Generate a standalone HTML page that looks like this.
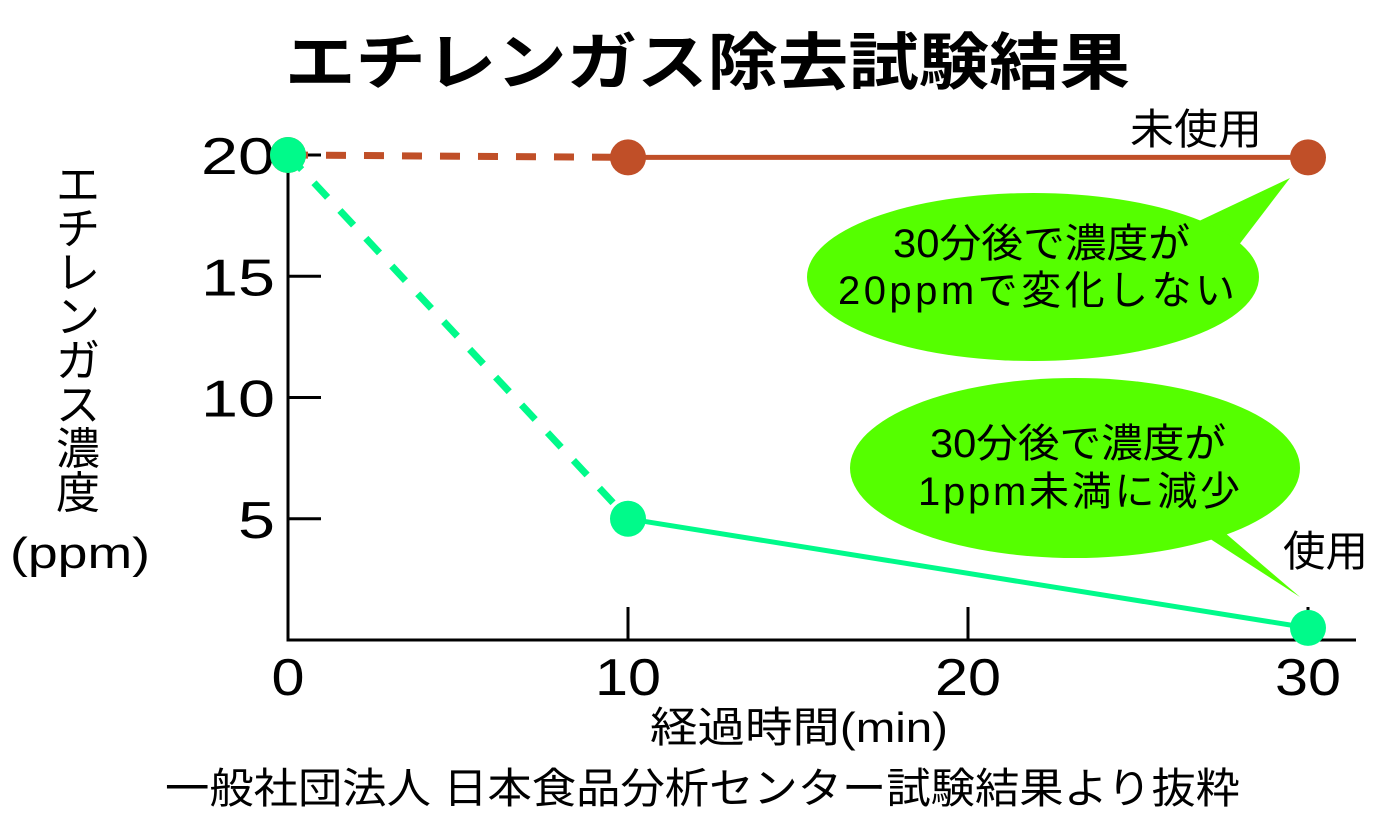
<!DOCTYPE html>
<html><head><meta charset="utf-8"><style>
html,body{margin:0;padding:0;background:#fff;}
svg{display:block;font-family:"Liberation Sans","Noto Sans CJK JP",sans-serif;}
</style></head><body>
<svg id="chart" width="1378" height="828" viewBox="0 0 1378 828">
<text x="285" y="84" textLength="845" lengthAdjust="spacingAndGlyphs" font-size="62" font-weight="bold">エチレンガス除去試験結果</text>
<g id="axes"></g>
<g id="bubbles">
<path d="M1180,230 L1290,178 L1235,250 Z" fill="#55ff00"/>
<ellipse cx="1033" cy="277" rx="226" ry="84" fill="#55ff00"/>
<text x="893" y="257" textLength="297" lengthAdjust="spacingAndGlyphs" font-size="40">30分後で濃度が</text>
<text x="838" y="304" textLength="397" lengthAdjust="spacing" font-size="40">20ppmで変化しない</text>
<path d="M1150,500 L1300,597 L1210,520 Z" fill="#55ff00"/>
<ellipse cx="1075" cy="468" rx="225" ry="90" fill="#55ff00"/>
<text x="930" y="457" textLength="296" lengthAdjust="spacingAndGlyphs" font-size="40">30分後で濃度が</text>
<text x="918" y="505" textLength="322" lengthAdjust="spacing" font-size="40">1ppm未満に減少</text>
</g>
<g id="series"></g>
<text x="1130" y="144" textLength="132" lengthAdjust="spacingAndGlyphs" font-size="42">未使用</text>
<text x="1283" y="566" textLength="85" lengthAdjust="spacingAndGlyphs" font-size="42">使用</text>
<g font-size="44" text-anchor="middle">
<text x="78" y="200">エ</text><text x="78" y="244">チ</text><text x="78" y="288">レ</text><text x="78" y="332">ン</text><text x="78" y="376">ガ</text><text x="78" y="420">ス</text><text x="78" y="464">濃</text><text x="78" y="508">度</text>
<text x="10" y="568" textLength="140" lengthAdjust="spacingAndGlyphs" text-anchor="start">(ppm)</text>
</g>
<text x="650" y="742" textLength="298" lengthAdjust="spacingAndGlyphs" font-size="42">経過時間(min)</text>
<text x="165" y="803" textLength="1075" lengthAdjust="spacingAndGlyphs" font-size="42">一般社団法人 日本食品分析センター試験結果より抜粋</text>
</svg>
<script>
const xTicks=[0,10,20,30];
const yTicks=[5,10,15,20];
const times=[0,10,30];
const unusedVals=[20,19.9,19.9];
const usedVals=[20,5.0,0.5];
const NS="http://www.w3.org/2000/svg";
function sx(v){return 288+v*34.0;}
function sy(v){return 640-v*24.25;}
function mk(tag,attrs,parent){const e=document.createElementNS(NS,tag);for(const k in attrs)e.setAttribute(k,attrs[k]);parent.appendChild(e);return e;}
const axes=document.getElementById('axes');
let a=mk('path',{d:`M${sx(0)},140 L${sx(0)},${sy(0)} L1356,${sy(0)}`,fill:'none',stroke:'#000','stroke-width':3},axes);


yTicks.forEach(v=>{
 const t=mk('line',{x1:sx(0),x2:sx(0)+33,y1:sy(v),y2:sy(v),stroke:'#000','stroke-width':3},axes);
 
 
 const s=String(v);
 const l=mk('text',{x:275,y:sy(v)+19,'text-anchor':'end','font-size':52,textLength:s.length*37,lengthAdjust:'spacingAndGlyphs'},axes);
 l.textContent=s;
 
 
});
xTicks.forEach(v=>{
 if(v>0){const t=mk('line',{x1:sx(v),x2:sx(v),y1:sy(0),y2:sy(0)-33,stroke:'#000','stroke-width':3},axes);
 
 }
 const s=String(v);
 const w=s.length*33;
 const l=mk('text',{x:sx(v)-w/2,y:sy(0)+55,'font-size':52,textLength:w,lengthAdjust:'spacingAndGlyphs'},axes);
 l.textContent=s;
 
 
});
const ser=document.getElementById('series');
function draw(vals,color,name){
 for(let i=0;i<vals.length-1;i++){
  const ln=mk('line',{x1:sx(times[i]),y1:sy(vals[i]),x2:sx(times[i+1]),y2:sy(vals[i+1]),stroke:color,'stroke-width':i==0?7:5},ser);
  if(i==0)ln.setAttribute('stroke-dasharray','20 18');
  
  
 }
 vals.forEach((v,i)=>{
  const c=mk('circle',{cx:sx(times[i]),cy:sy(v),r:18,fill:color},ser);
  
  
 });
}
draw(unusedVals,'#c04f28','unused');
draw(usedVals,'#00fa8a','used');
</script>
</body></html>
